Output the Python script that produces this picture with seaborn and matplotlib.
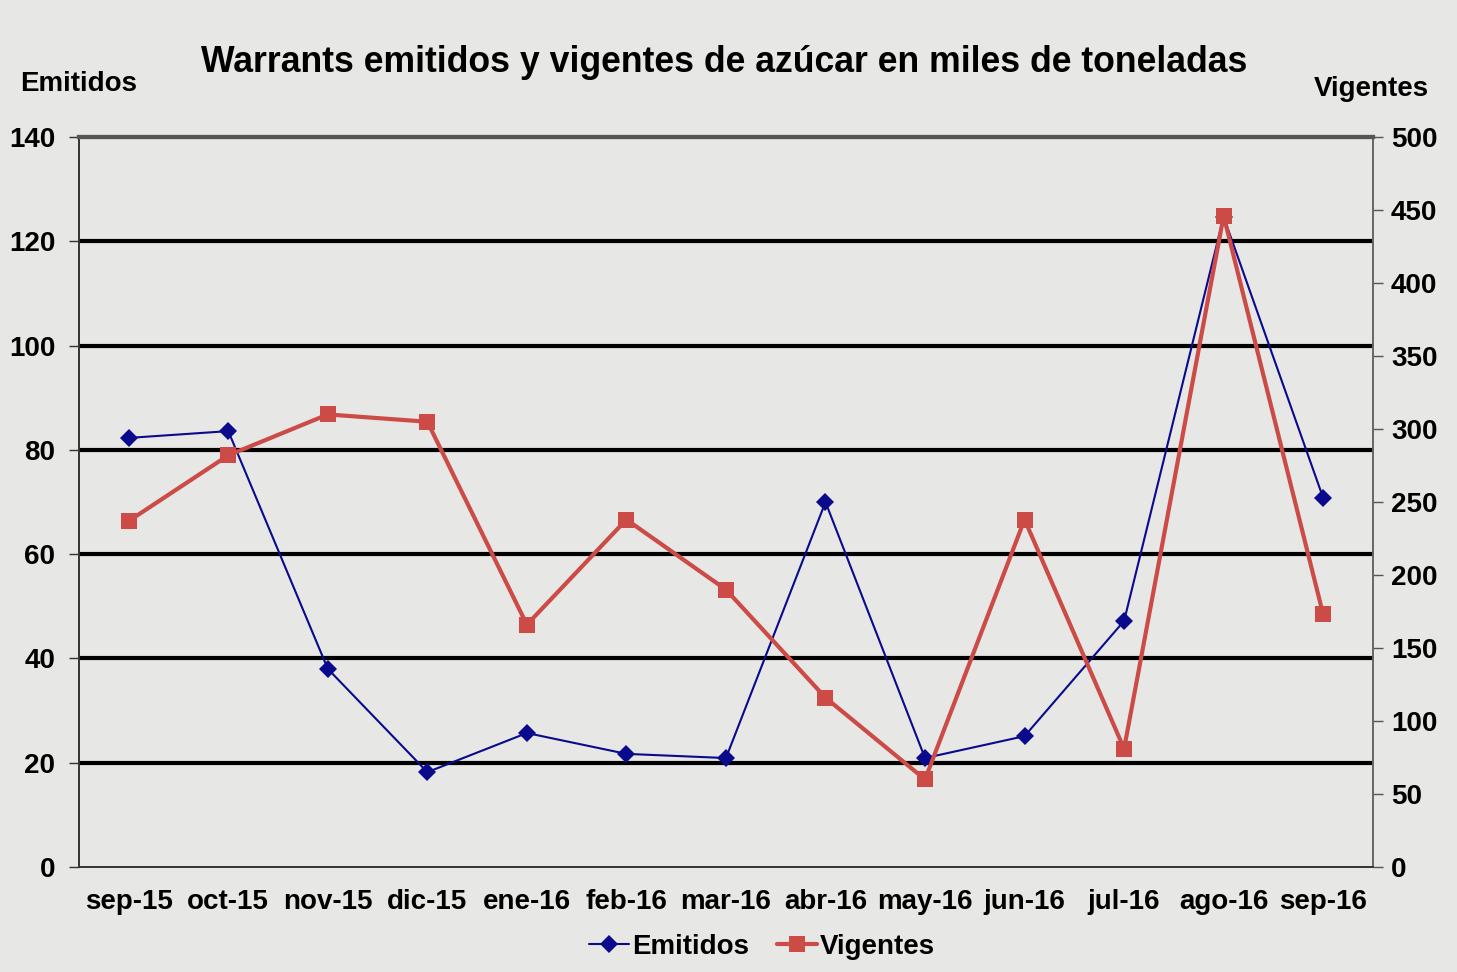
import numpy as np
import pandas as pd
import seaborn as sns
import matplotlib.pyplot as plt
from matplotlib.lines import Line2D

# Monthly warrants of sugar (thousand tonnes)
months = ["sep-15", "oct-15", "nov-15", "dic-15", "ene-16", "feb-16", "mar-16",
          "abr-16", "may-16", "jun-16", "jul-16", "ago-16", "sep-16"]
emitidos = [82.3, 83.6, 38.0, 18.2, 25.7, 21.7, 20.9, 70.0, 20.9, 25.1, 47.2, 124.7, 70.8]
vigentes = [237, 282, 310, 305, 166, 238, 190, 116, 60, 238, 81, 446, 173]

bg = "#e7e7e5"
blue = "#0a0a8c"
red = "#cc4b47"

sns.set_theme(style="white")
plt.rcParams['font.family'] = ['Liberation Sans', 'DejaVu Sans']
plt.rcParams['font.weight'] = 'bold'
plt.rcParams['text.color'] = 'black'
plt.rcParams['xtick.color'] = 'black'
plt.rcParams['ytick.color'] = 'black'

df = pd.DataFrame({"pos": np.arange(len(months)), "Emitidos": emitidos, "Vigentes": vigentes})

fig = plt.figure(figsize=(14.57, 9.72), dpi=100, facecolor=bg)
ax = fig.add_axes([0.0542, 0.108, 0.8881, 0.751])
ax.set_facecolor(bg)
ax2 = ax.twinx()

sns.lineplot(data=df, x="pos", y="Emitidos", ax=ax, color=blue, linewidth=1.5,
             marker="D", markersize=9, markeredgewidth=0, zorder=3)
sns.lineplot(data=df, x="pos", y="Vigentes", ax=ax2, color=red, linewidth=3,
             marker="s", markersize=12, markeredgewidth=0, zorder=3)

ax.set_xlim(-0.5, len(months) - 0.5)
ax.set_ylim(0, 140)
ax2.set_ylim(0, 500)
ax.set_yticks(np.arange(0, 141, 20))
ax2.set_yticks(np.arange(0, 501, 50))
ax.set_xticks(np.arange(len(months)))
ax.set_xticklabels(months)
ax.set_xticks(np.arange(-0.5, len(months), 1), minor=True)
ax.tick_params(axis="x", which="major", length=0, pad=16, labelsize=20)
ax.tick_params(axis="x", which="minor", length=7, width=1, color="#333333")
ax.tick_params(axis="y", length=7, width=1, color="#333333", labelsize=20, pad=10, direction="out")
ax2.tick_params(axis="y", length=7, width=1, color="#555555", labelsize=20, pad=6, right=True)
for lbl in ax.get_xticklabels() + ax.get_yticklabels() + ax2.get_yticklabels():
    lbl.set_fontweight("bold")
ax.set_xlabel("")
ax.set_ylabel("")
ax2.set_ylabel("")

for y in range(20, 140, 20):
    ax.axhline(y, color="black", linewidth=3, zorder=1)

for a in (ax, ax2):
    a.spines["left"].set_color("#333333")
    a.spines["bottom"].set_color("#333333")
    a.spines["right"].set_color("#666666")
    a.spines["top"].set_color("#555555")
    a.spines["top"].set_linewidth(3)
    a.spines["left"].set_linewidth(1.2)
    a.spines["bottom"].set_linewidth(1.2)
    a.spines["right"].set_linewidth(1.2)

fig.text(0.497, 0.936, "Warrants emitidos y vigentes de azúcar en miles de toneladas",
         ha="center", va="center", fontsize=25.7, fontweight="bold")
fig.text(0.014, 0.914, "Emitidos", ha="left", va="center", fontsize=20, fontweight="bold")
fig.text(0.981, 0.908, "Vigentes", ha="right", va="center", fontsize=20, fontweight="bold")

handles = [Line2D([], [], color=blue, linewidth=1.5, marker="D", markersize=9, markeredgewidth=0),
           Line2D([], [], color=red, linewidth=3, marker="s", markersize=11, markeredgewidth=0)]
fig.legend(handles, ["Emitidos", "Vigentes"], loc="center", bbox_to_anchor=(0.523, 0.026),
           ncol=2, frameon=False, handlelength=1.45, handletextpad=0.1,
           columnspacing=1.0, prop={"weight": "bold", "size": 20})

fig.savefig("out.png", dpi=100, facecolor=bg)
